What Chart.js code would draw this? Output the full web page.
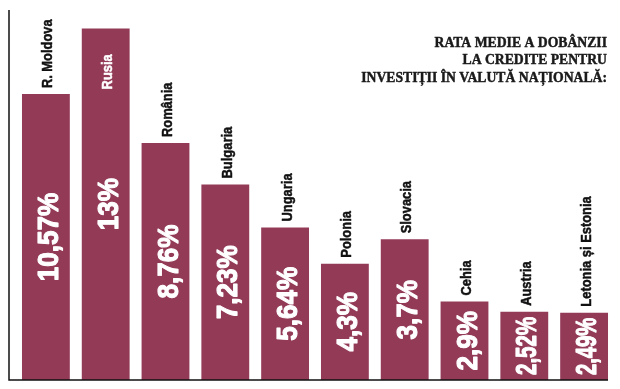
<!DOCTYPE html>
<html>
<head>
<meta charset="utf-8">
<script src="https://cdn.jsdelivr.net/npm/chart.js@4"></script>
<style>
html,body{margin:0;padding:0;background:#fff;}
#wrap{position:relative;width:620px;height:389px;}
</style>
</head>
<body>
<div id="wrap"><canvas id="c" width="620" height="389"></canvas></div>
<script>
// Categories (countries)
const categories = ['R. Moldova', 'Rusia', 'România', 'Bulgaria', 'Ungaria', 'Polonia', 'Slovacia', 'Cehia', 'Austria', 'Letonia și Estonia'];
// Bar heights as drawn in the picture (Slovacia is drawn taller than its printed value)
const barValues = [10.57, 13, 8.76, 7.23, 5.64, 4.3, 5.2, 2.9, 2.52, 2.49];
// Printed value labels
const valueLabels = ['10,57%', '13%', '8,76%', '7,23%', '5,64%', '4,3%', '3,7%', '2,9%', '2,52%', '2,49%'];
// Title lines
const titleLines = ['RATA MEDIE A DOBÂNZII', 'LA CREDITE PENTRU', 'INVESTIȚII ÎN VALUTĂ NAȚIONALĂ:'];

const BAR_COLOR = '#933a57';
const LABEL_FONT = 'bold 15px "Liberation Sans", Arial, sans-serif';
const LABEL_SQUEEZE = 0.86;
const VALUE_FONT = 'bold 29px "Liberation Sans", Arial, sans-serif';
const VALUE_SQUEEZE = 0.9;
const TITLE_FONT = 'bold 13.7px "Liberation Serif", "DejaVu Serif", serif';

const decorPlugin = {
  id: 'decor',
  afterDatasetsDraw(chart) {
    const ctx = chart.ctx;
    const area = chart.chartArea;
    const meta = chart.getDatasetMeta(0);
    const yBase = chart.scales.y.getPixelForValue(0);
    const axisX = area.left - 7;
    const last = meta.data[meta.data.length - 1];
    ctx.save();
    ctx.strokeStyle = '#111';
    ctx.lineWidth = 1.5;
    ctx.beginPath();
    ctx.moveTo(axisX, area.top);
    ctx.lineTo(axisX, yBase);
    ctx.lineTo(last.x + last.width / 2, yBase);
    ctx.stroke();
    ctx.lineJoin = 'round';

    meta.data.forEach((bar, i) => {
      const top = bar.y;
      const bottom = bar.base;
      // value label, centred inside bar, squeezed to fit the bar
      ctx.save();
      ctx.font = VALUE_FONT;
      ctx.fillStyle = '#fff';
      ctx.strokeStyle = '#fff';
      ctx.lineWidth = 1.1;
      const natural = ctx.measureText(valueLabels[i]).width;
      const maxLen = (bottom - top) - 10;
      const sq = Math.min(VALUE_SQUEEZE, maxLen / natural);
      ctx.translate(bar.x + 12, (top + bottom) / 2);
      ctx.rotate(-Math.PI / 2);
      ctx.scale(sq, 1);
      ctx.textAlign = 'center';
      ctx.textBaseline = 'alphabetic';
      ctx.fillText(valueLabels[i], 0, 0);
      ctx.strokeText(valueLabels[i], 0, 0);
      ctx.restore();

      // category label
      ctx.save();
      ctx.font = LABEL_FONT;
      const w = ctx.measureText(categories[i]).width * LABEL_SQUEEZE;
      let start = top - 6;
      let color = '#111';
      if (start - w < area.top) {
        start = top + 61;
        color = '#fff';
      }
      ctx.fillStyle = color;
      ctx.strokeStyle = color;
      ctx.lineWidth = 0.5;
      ctx.translate(bar.x + 6.5, start);
      ctx.rotate(-Math.PI / 2);
      ctx.scale(LABEL_SQUEEZE, 1);
      ctx.textAlign = 'left';
      ctx.textBaseline = 'alphabetic';
      ctx.fillText(categories[i], 0, 0);
      ctx.strokeText(categories[i], 0, 0);
      ctx.restore();
    });

    // title
    ctx.font = TITLE_FONT;
    ctx.fillStyle = '#1a1a1a';
    ctx.strokeStyle = '#1a1a1a';
    ctx.lineWidth = 0.45;
    ctx.textAlign = 'right';
    ctx.textBaseline = 'alphabetic';
    const baselines = [46.5, 64, 81.5];
    titleLines.forEach((t, i) => {
      ctx.fillText(t, 607, baselines[i]);
      ctx.strokeText(t, 607, baselines[i]);
    });
    ctx.restore();
  }
};

new Chart(document.getElementById('c'), {
  type: 'bar',
  data: {
    labels: categories,
    datasets: [{
      data: barValues,
      backgroundColor: BAR_COLOR,
      borderWidth: 0,
      categoryPercentage: 1.0,
      barPercentage: 0.8
    }]
  },
  options: {
    responsive: false,
    animation: false,
    layout: { padding: { left: 16, top: 10, right: 6, bottom: 9 } },
    plugins: { legend: { display: false }, tooltip: { enabled: false }, title: { display: false } },
    scales: {
      x: { display: false, grid: { display: false } },
      y: { display: false, min: 0, max: 13.68, grid: { display: false } }
    }
  },
  plugins: [decorPlugin]
});
</script>
</body>
</html>
